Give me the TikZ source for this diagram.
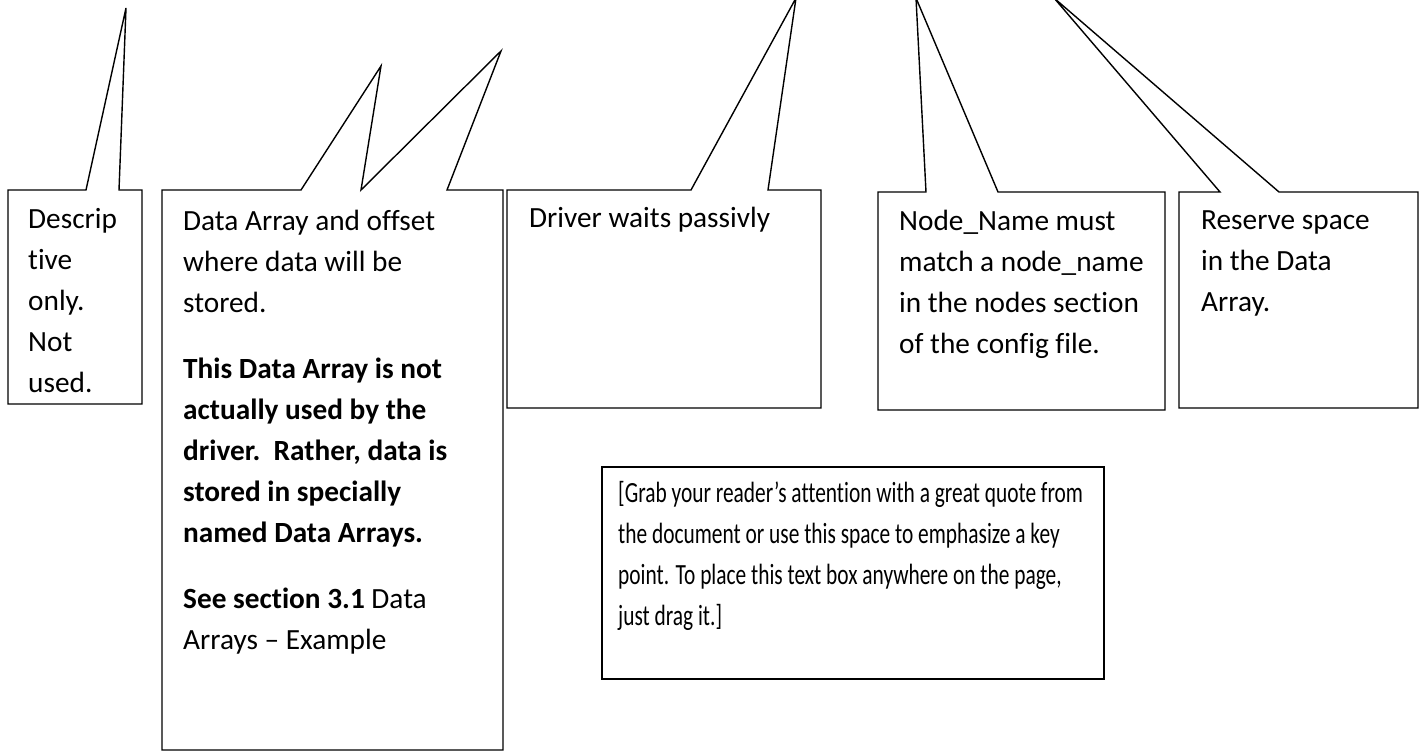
\documentclass[tikz,border=0pt]{standalone}
\usepackage{fontspec}
\usepackage{graphicx}
\setmainfont{Carlito}[Ligatures=NoCommon]
\begin{document}
\begin{tikzpicture}[x=1pt,y=-1pt,
  callout/.style={line width=1.4pt, line join=miter},
  txt/.style={anchor=base west, align=left, inner sep=0pt, font=\fontsize{29.3}{41}\selectfont}]
  \useasboundingbox (0,0) rectangle (1421,751);

  % callout shapes
  \draw[callout] (8,190) -- (86,190) -- (126,8) -- (119,190) -- (142,190) -- (142,404) -- (8,404) -- cycle;
  \draw[callout] (162,190) -- (301,190) -- (381,66) -- (361,190) -- (501,51) -- (447,190) -- (503,190) -- (503,750) -- (162,750) -- cycle;
  \draw[callout] (507,190) -- (691,190) -- (796,-2) -- (768,190) -- (821,190) -- (821,408) -- (507,408) -- cycle;
  \draw[callout] (878,192) -- (926,192) -- (916,-2) -- (998,192) -- (1165,192) -- (1165,410) -- (878,410) -- cycle;
  \draw[callout] (1179,192) -- (1220,192) -- (1054,-2) -- (1279,192) -- (1418,192) -- (1418,408) -- (1179,408) -- cycle;
  \draw[callout] (602,467) rectangle (1104,679);

  % texts (placed at the baseline of their last line)
  \node[txt] (descr) at (28,392) {Descrip\\tive\\only.\\Not\\used.};
  \node[txt] (arr) at (183,649) {Data Array and offset\\where data will be\\stored.\\[25pt]
    \textbf{This Data Array is not}\\\textbf{actually used by the}\\\textbf{driver.\ \ Rather, data is}\\
    \textbf{stored in specially}\\\textbf{named Data Arrays.}\\[25pt]
    \textbf{See section 3.1} Data\\Arrays -- Example};
  \node[txt] (drv) at (529,228) {Driver waits passivly};
  \node[txt] (nname) at (899,353) {Node\_Name must\\match a node\_name\\in the nodes section\\of the config file.};
  \node[txt] (resv) at (1201,312) {Reserve space\\in the Data\\Array.};
  \node[txt] (quote) at (618,625) {\scalebox{0.73}[1]{\begin{tabular}[b]{@{}l@{}}
    [Grab your reader’s attention with a great quote from\\
    the document or use this space to emphasize a key\\
    point. To place this text box anywhere on the page,\\
    just drag it.]\end{tabular}}};
\end{tikzpicture}
\end{document}
